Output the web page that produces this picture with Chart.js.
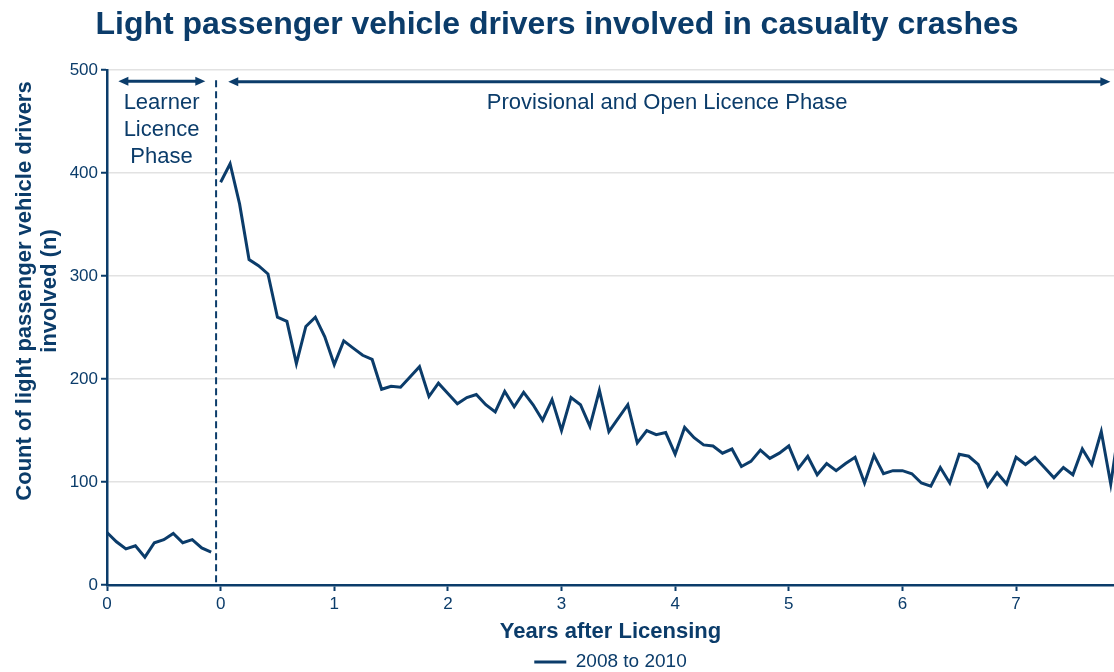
<!DOCTYPE html>
<html>
<head>
<meta charset="utf-8">
<script src="https://cdn.jsdelivr.net/npm/chart.js@4.4.1/dist/chart.umd.min.js"></script>
<style>
  html, body { margin: 0; padding: 0; background: #fff; }
  #wrap { width: 1114px; height: 672px; position: relative; }
</style>
</head>
<body>
<div id="wrap"><canvas id="grafica"></canvas></div>
<script>
const chartTitle = 'Light passenger vehicle drivers involved in casualty crashes';
const seriesName = '2008 to 2010';
const xTitle = 'Years after Licensing';
const yTitle = ['Count of light passenger vehicle drivers', 'involved (n)'];

// monthly counts, learner year then years after licensing
const learnerValues = [51, 42, 35, 38, 27, 41, 44, 50, 41, 44, 36, 32];
const licenceValues = [
  391, 409, 370, 316, 310, 302, 260, 256, 215, 251, 260, 241,
  214, 237, 230, 223, 219, 190, 193, 192, 202, 212, 183, 196,
  186, 176, 182, 185, 175, 168, 188, 173, 187, 175, 160, 180,
  150, 182, 175, 154, 189, 149, 162, 175, 138, 150, 146, 148,
  127, 153, 143, 136, 135, 128, 132, 115, 120, 131, 123, 128,
  135, 113, 125, 107, 118, 111, 118, 124, 99, 126, 108, 111,
  111, 108, 99, 96, 114, 99, 127, 125, 117, 96, 109, 98,
  124, 117, 124, 114, 104, 114, 107, 132, 117, 149, 98, 160
];

const xTickValues = [-1, 0, 1, 2, 3, 4, 5, 6, 7];
const xTickLabels = ['0', '0', '1', '2', '3', '4', '5', '6', '7'];

const phaseBreak = -0.04;
const phaseLabels = [
  { x: -0.52, y: 467.7, lines: ['Learner', 'Licence', 'Phase'] },
  { x: 3.93, y: 467.9, lines: ['Provisional and Open Licence Phase'] }
];
const phaseArrows = [
  { from: -0.90, to: -0.135, at: 489 },
  { from: 0.067, to: 7.83, at: 488.5 }
];

const navy = '#0b3c6a';
const fontFamily = "'Liberation Sans', Arial, sans-serif";
Chart.defaults.font.family = fontFamily;

const points = learnerValues.map((v, i) => ({ x: -1 + i / 12, y: v }))
  .concat([{ x: phaseBreak, y: null }])
  .concat(licenceValues.map((v, i) => ({ x: i / 12, y: v })));

function drawArrow(ctx, x1, x2, y) {
  const head = 10, half = 4.5;
  ctx.beginPath();
  ctx.moveTo(x1 + head - 1, y);
  ctx.lineTo(x2 - head + 1, y);
  ctx.stroke();
  ctx.beginPath();
  ctx.moveTo(x1, y);
  ctx.lineTo(x1 + head, y - half);
  ctx.lineTo(x1 + head, y + half);
  ctx.closePath();
  ctx.fill();
  ctx.beginPath();
  ctx.moveTo(x2, y);
  ctx.lineTo(x2 - head, y - half);
  ctx.lineTo(x2 - head, y + half);
  ctx.closePath();
  ctx.fill();
}

const overlay = {
  id: 'overlay',
  afterDraw(chart) {
    const { ctx, chartArea } = chart;
    const x = chart.scales.x, y = chart.scales.y;
    ctx.save();
    ctx.strokeStyle = navy;
    ctx.fillStyle = navy;

    // dashed line between the two phases
    const dx = x.getPixelForValue(phaseBreak);
    ctx.lineWidth = 2;
    ctx.setLineDash([7, 4]);
    ctx.beginPath();
    ctx.moveTo(dx, y.getPixelForValue(490));
    ctx.lineTo(dx, chartArea.bottom);
    ctx.stroke();
    ctx.setLineDash([]);

    ctx.lineWidth = 3;
    phaseArrows.forEach(a => drawArrow(ctx, x.getPixelForValue(a.from), x.getPixelForValue(a.to), y.getPixelForValue(a.at)));

    ctx.font = '22px ' + fontFamily;
    ctx.textAlign = 'center';
    ctx.textBaseline = 'middle';
    phaseLabels.forEach(l => {
      l.lines.forEach((t, k) => ctx.fillText(t, x.getPixelForValue(l.x), y.getPixelForValue(l.y) + k * 27));
    });

    // y axis title, two lines
    ctx.font = 'bold 22px ' + fontFamily;
    ctx.translate(0, 291);
    ctx.rotate(-Math.PI / 2);
    ctx.fillText(yTitle[0], 0, 25);
    ctx.fillText(yTitle[1], 0, 50);
    ctx.restore();
  }
};

new Chart(document.getElementById('grafica'), {
  type: 'line',
  data: {
    datasets: [{
      label: seriesName,
      data: points,
      borderColor: navy,
      backgroundColor: navy,
      borderWidth: 3,
      pointRadius: 0,
      tension: 0
    }]
  },
  options: {
    responsive: true,
    maintainAspectRatio: false,
    animation: false,
    layout: { padding: { left: 0, right: 0, top: 0, bottom: -9.5 } },
    plugins: {
      title: {
        display: true,
        text: chartTitle,
        color: navy,
        font: { size: 32, weight: 'bold' },
        padding: { top: 6, bottom: 25.6 }
      },
      legend: {
        position: 'bottom',
        fullSize: false,
        labels: {
          color: navy,
          font: { size: 19 },
          padding: 0,
          usePointStyle: true,
          pointStyle: 'line',
          pointStyleWidth: 32
        }
      },
      tooltip: { enabled: false }
    },
    scales: {
      x: {
        type: 'linear',
        min: -1,
        max: 7.862,
        afterBuildTicks: s => { s.ticks = xTickValues.map(v => ({ value: v })); },
        afterFit: s => { s.height = 67.5; },
        ticks: {
          color: navy,
          font: { size: 17 },
          padding: 3,
          maxRotation: 0,
          callback: (v, i) => xTickLabels[i]
        },
        grid: { drawOnChartArea: false, drawTicks: true, tickLength: 6, tickColor: navy, tickWidth: 2 },
        border: { color: navy, width: 2.5 },
        title: {
          display: true,
          text: xTitle,
          color: navy,
          font: { size: 22, weight: 'bold' },
          padding: { top: 0, bottom: 7.5 }
        }
      },
      y: {
        min: 0,
        max: 500,
        afterFit: s => { s.width = 107; },
        ticks: { stepSize: 100, color: navy, font: { size: 17 }, padding: 3 },
        grid: { color: '#e2e2e2', lineWidth: 1.5, tickLength: 6, tickColor: navy, tickWidth: 2 },
        border: { color: navy, width: 2.5 }
      }
    }
  },
  plugins: [overlay]
});
</script>
</body>
</html>
